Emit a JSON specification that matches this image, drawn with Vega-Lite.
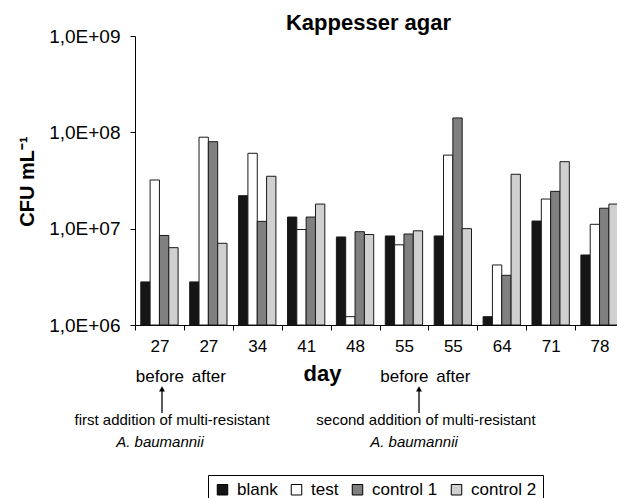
{
  "$schema": "https://vega.github.io/schema/vega-lite/v6.json",
  "width": 489,
  "height": 289,
  "autosize": {"type": "none"},
  "padding": {"left": 135, "top": 36, "right": -7, "bottom": 173},
  "config": {
    "font": "Liberation Sans",
    "view": {"stroke": null},
    "axis": {"domainColor": "#000", "tickColor": "#000", "labelColor": "#000", "titleColor": "#000", "grid": false}
  },
  "title": {"text": "Kappesser agar", "fontSize": 22, "fontWeight": "bold", "anchor": "middle", "dx": -11, "offset": -8, "color": "#000"},
  "layer": [
    {
      "data": {"values": [
        {"day": "27|before", "series": "blank", "cfu": 2800000},
        {"day": "27|before", "series": "test", "cfu": 32000000},
        {"day": "27|before", "series": "control 1", "cfu": 8500000},
        {"day": "27|before", "series": "control 2", "cfu": 6350000},
        {"day": "27|after", "series": "blank", "cfu": 2800000},
        {"day": "27|after", "series": "test", "cfu": 89000000},
        {"day": "27|after", "series": "control 1", "cfu": 80000000},
        {"day": "27|after", "series": "control 2", "cfu": 7050000},
        {"day": "34", "series": "blank", "cfu": 22000000},
        {"day": "34", "series": "test", "cfu": 60600000},
        {"day": "34", "series": "control 1", "cfu": 11900000},
        {"day": "34", "series": "control 2", "cfu": 35000000},
        {"day": "41", "series": "blank", "cfu": 13200000},
        {"day": "41", "series": "test", "cfu": 9800000},
        {"day": "41", "series": "control 1", "cfu": 13200000},
        {"day": "41", "series": "control 2", "cfu": 18000000},
        {"day": "48", "series": "blank", "cfu": 8200000},
        {"day": "48", "series": "test", "cfu": 1220000},
        {"day": "48", "series": "control 1", "cfu": 9300000},
        {"day": "48", "series": "control 2", "cfu": 8700000},
        {"day": "55|before", "series": "blank", "cfu": 8400000},
        {"day": "55|before", "series": "test", "cfu": 6800000},
        {"day": "55|before", "series": "control 1", "cfu": 8800000},
        {"day": "55|before", "series": "control 2", "cfu": 9500000},
        {"day": "55|after", "series": "blank", "cfu": 8400000},
        {"day": "55|after", "series": "test", "cfu": 58000000},
        {"day": "55|after", "series": "control 1", "cfu": 141000000},
        {"day": "55|after", "series": "control 2", "cfu": 10000000},
        {"day": "64", "series": "blank", "cfu": 1220000},
        {"day": "64", "series": "test", "cfu": 4200000},
        {"day": "64", "series": "control 1", "cfu": 3280000},
        {"day": "64", "series": "control 2", "cfu": 36700000},
        {"day": "71", "series": "blank", "cfu": 12000000},
        {"day": "71", "series": "test", "cfu": 20300000},
        {"day": "71", "series": "control 1", "cfu": 24400000},
        {"day": "71", "series": "control 2", "cfu": 49600000},
        {"day": "78", "series": "blank", "cfu": 5330000},
        {"day": "78", "series": "test", "cfu": 11100000},
        {"day": "78", "series": "control 1", "cfu": 16300000},
        {"day": "78", "series": "control 2", "cfu": 18000000}
      ]},
      "mark": {"type": "bar", "stroke": "#1a1a1a", "strokeWidth": 1},
      "encoding": {
        "x": {
          "field": "day", "type": "nominal", "sort": null,
          "scale": {"paddingInner": 0, "paddingOuter": 0},
          "axis": {
            "title": "day", "labelExpr": "isValid(datum.value) ? split(datum.value, '|') : ''", "labelAngle": 0,
            "labelFontSize": 17, "labelLineHeight": 30, "labelPadding": 8,
            "tickBand": "extent", "tickSize": 5,
            "titleFontSize": 22, "titleFontWeight": "bold",
            "titleX": 187, "titleY": 48, "titleAlign": "center", "titleBaseline": "middle"
          }
        },
        "xOffset": {
          "field": "series", "type": "nominal", "sort": ["blank", "test", "control 1", "control 2"],
          "scale": {"paddingInner": 0, "paddingOuter": 0.62}
        },
        "y": {
          "field": "cfu", "type": "quantitative", "title": "CFU mL⁻¹",
          "scale": {"type": "log", "domain": [1000000, 1000000000]},
          "axis": {
            "values": [1000000, 10000000, 100000000, 1000000000],
            "labelExpr": "'1,0E+0' + round(log(datum.value) / LN10)",
            "labelFontSize": 19, "labelPadding": 10, "tickSize": 5,
            "titleFontSize": 20, "titleFontWeight": "bold",
            "titleAngle": 270, "titleX": -108, "titleY": 145, "titleAlign": "center", "titleBaseline": "middle"
          }
        },
        "y2": {"datum": 1000000},
        "fill": {
          "field": "series", "type": "nominal",
          "scale": {"domain": ["blank", "test", "control 1", "control 2"], "range": ["#151515", "#ffffff", "#808080", "#d0d0d0"]},
          "legend": {
            "title": null, "orient": "none", "direction": "horizontal", "legendX": 73, "legendY": 439,
            "strokeColor": "#000", "padding": 6, "labelFontSize": 17, "labelColor": "#000",
            "symbolType": "square", "symbolSize": 110, "symbolStrokeColor": "#000", "symbolStrokeWidth": 1,
            "symbolOpacity": 1, "labelOffset": 6, "columnPadding": 10
          }
        }
      }
    },
    {
      "data": {"values": [
        {"gx": 0.552, "v1": 206000, "v2": 122000},
        {"gx": 5.808, "v1": 206000, "v2": 122000}
      ]},
      "mark": {"type": "rule", "color": "#000", "strokeWidth": 1.3},
      "encoding": {
        "x": {"field": "gx", "type": "quantitative", "scale": {"domain": [0, 10]}, "axis": null},
        "y": {"field": "v1", "type": "quantitative", "title": "CFU mL⁻¹", "scale": {"type": "log", "domain": [1000000, 1000000000]}},
        "y2": {"field": "v2"}
      }
    },
    {
      "data": {"values": [
        {"gx": 0.552, "v": 217000},
        {"gx": 5.808, "v": 217000}
      ]},
      "mark": {"type": "point", "shape": "triangle-up", "filled": true, "color": "#000", "size": 35, "opacity": 1},
      "encoding": {
        "x": {"field": "gx", "type": "quantitative", "scale": {"domain": [0, 10]}, "axis": null},
        "y": {"field": "v", "type": "quantitative", "title": "CFU mL⁻¹", "scale": {"type": "log", "domain": [1000000, 1000000000]}}
      }
    },
    {
      "data": {"values": [
        {"gx": 0.757, "v": 103000, "label": "first addition of multi-resistant"},
        {"gx": 5.95, "v": 103000, "label": "second addition of multi-resistant"}
      ]},
      "mark": {"type": "text", "fontSize": 15, "color": "#000", "align": "center", "baseline": "middle"},
      "encoding": {
        "x": {"field": "gx", "type": "quantitative", "scale": {"domain": [0, 10]}, "axis": null},
        "y": {"field": "v", "type": "quantitative", "title": "CFU mL⁻¹", "scale": {"type": "log", "domain": [1000000, 1000000000]}},
        "text": {"field": "label"}
      }
    },
    {
      "data": {"values": [
        {"gx": 0.511, "v": 61000, "label": "A. baumannii"},
        {"gx": 5.706, "v": 61000, "label": "A. baumannii"}
      ]},
      "mark": {"type": "text", "fontSize": 15, "fontStyle": "italic", "color": "#000", "align": "center", "baseline": "middle"},
      "encoding": {
        "x": {"field": "gx", "type": "quantitative", "scale": {"domain": [0, 10]}, "axis": null},
        "y": {"field": "v", "type": "quantitative", "title": "CFU mL⁻¹", "scale": {"type": "log", "domain": [1000000, 1000000000]}},
        "text": {"field": "label"}
      }
    }
  ],
  "resolve": {"scale": {"x": "independent"}}
}
